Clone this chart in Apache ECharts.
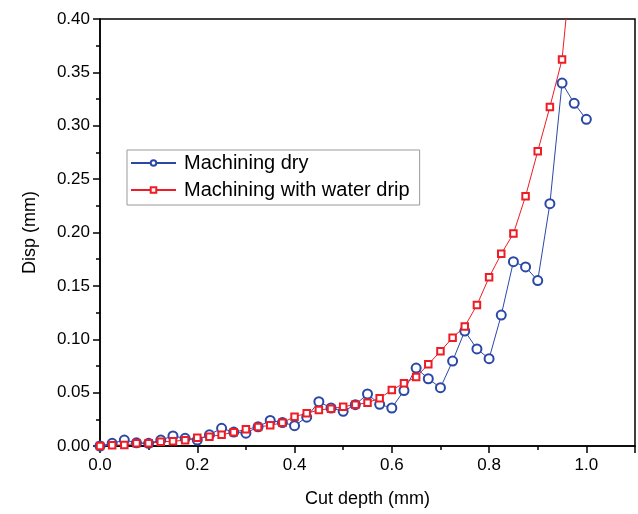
<!DOCTYPE html>
<html>
<head>
<meta charset="utf-8">
<script src="https://cdn.jsdelivr.net/npm/echarts@6/dist/echarts.min.js"></script>
<style>
html,body{margin:0;padding:0;background:#fff;}
#chart{width:638px;height:514px;}
</style>
</head>
<body>
<div id="chart"></div>
<script>
var cutDepth = [0, 0.025, 0.05, 0.075, 0.1, 0.125, 0.15, 0.175, 0.2, 0.225, 0.25, 0.275, 0.3, 0.325, 0.35, 0.375, 0.4, 0.425, 0.45, 0.475, 0.5, 0.525, 0.55, 0.575, 0.6, 0.625, 0.65, 0.675, 0.7, 0.725, 0.75, 0.775, 0.8, 0.825, 0.85, 0.875, 0.9, 0.925, 0.95, 0.975, 1.0];
var dispDry = [0, 0.0025, 0.0056, 0.003, 0.0025, 0.0056, 0.0094, 0.0072, 0.0056, 0.0105, 0.0166, 0.013, 0.012, 0.018, 0.024, 0.022, 0.019, 0.027, 0.0415, 0.0356, 0.0325, 0.0387, 0.0487, 0.039, 0.0356, 0.052, 0.073, 0.063, 0.0546, 0.0796, 0.1077, 0.0909, 0.0818, 0.1227, 0.1727, 0.1677, 0.155, 0.227, 0.340, 0.321, 0.306];
var dispWater = [0, 0.0008, 0.001, 0.0025, 0.0025, 0.004, 0.0044, 0.0055, 0.0077, 0.0087, 0.0106, 0.0128, 0.0156, 0.0178, 0.0194, 0.0218, 0.0275, 0.0306, 0.0337, 0.035, 0.0368, 0.0387, 0.0406, 0.0447, 0.0525, 0.0587, 0.0646, 0.0765, 0.0887, 0.1015, 0.112, 0.132, 0.158, 0.18, 0.199, 0.234, 0.276, 0.3176, 0.362, 0.48];
var seriesNames = ['Machining dry', 'Machining with water drip'];
var xTitle = 'Cut depth (mm)';
var yTitle = 'Disp (mm)';

function pairs(xs, ys){ return ys.map(function(v,i){ return [xs[i], v]; }); }

var chart = echarts.init(document.getElementById('chart'), null, {renderer:'canvas'});
var font = '"Liberation Sans", Arial, sans-serif';
chart.setOption({
  animation: false,
  backgroundColor: '#fff',
  grid: {left: 100, right: 3, top: 19, bottom: 68, show: true, borderColor: '#000', borderWidth: 1.5, backgroundColor: 'transparent'},
  legend: {
    orient: 'vertical', left: 127, top: 150,
    padding: [3, 10, 5, 3], itemGap: 7, itemWidth: 45, itemHeight: 7,
    borderColor: '#999', borderWidth: 1, backgroundColor: '#fff',
    textStyle: {fontSize: 20, fontFamily: font, color: '#000', padding: [0,0,0,3]},
    data: seriesNames
  },
  xAxis: {
    type: 'value', min: 0, max: 1.1, interval: 0.2,
    name: xTitle, nameLocation: 'middle', nameGap: 44,
    nameTextStyle: {fontSize: 18, fontFamily: font, color: '#000'},
    axisLine: {show: true, lineStyle: {color: '#000', width: 1.5}},
    axisTick: {show: true, length: 7, lineStyle: {color: '#000', width: 1.5}},
    minorTick: {show: true, splitNumber: 2, length: 4, lineStyle: {color: '#000', width: 1.5}},
    splitLine: {show: false},
    axisLabel: {fontSize: 17, fontFamily: font, color: '#000', margin: 11, showMaxLabel: false,
      formatter: function(v){ return v.toFixed(1); }}
  },
  yAxis: {
    type: 'value', min: 0, max: 0.4, interval: 0.05,
    name: yTitle, nameLocation: 'middle', nameGap: 61,
    nameTextStyle: {fontSize: 18, fontFamily: font, color: '#000'},
    axisLine: {show: true, lineStyle: {color: '#000', width: 1.5}},
    axisTick: {show: true, length: 7, lineStyle: {color: '#000', width: 1.5}},
    minorTick: {show: true, splitNumber: 2, length: 4, lineStyle: {color: '#000', width: 1.5}},
    splitLine: {show: false},
    axisLabel: {fontSize: 17, fontFamily: font, color: '#000', margin: 10,
      formatter: function(v){ return v.toFixed(2); }}
  },
  series: [
    {
      name: seriesNames[0], type: 'line', data: pairs(cutDepth, dispDry),
      symbol: 'emptyCircle', symbolSize: 9, clip: true,
      lineStyle: {color: '#2B48A6', width: 1},
      itemStyle: {color: '#2B48A6', borderWidth: 1.5}
    },
    {
      name: seriesNames[1], type: 'line', data: pairs(cutDepth, dispWater),
      symbol: 'emptyRect', symbolSize: 6.5, clip: true,
      lineStyle: {color: '#EE1C25', width: 1},
      itemStyle: {color: '#EE1C25', borderWidth: 1.5}
    }
  ]
});
</script>
</body>
</html>
